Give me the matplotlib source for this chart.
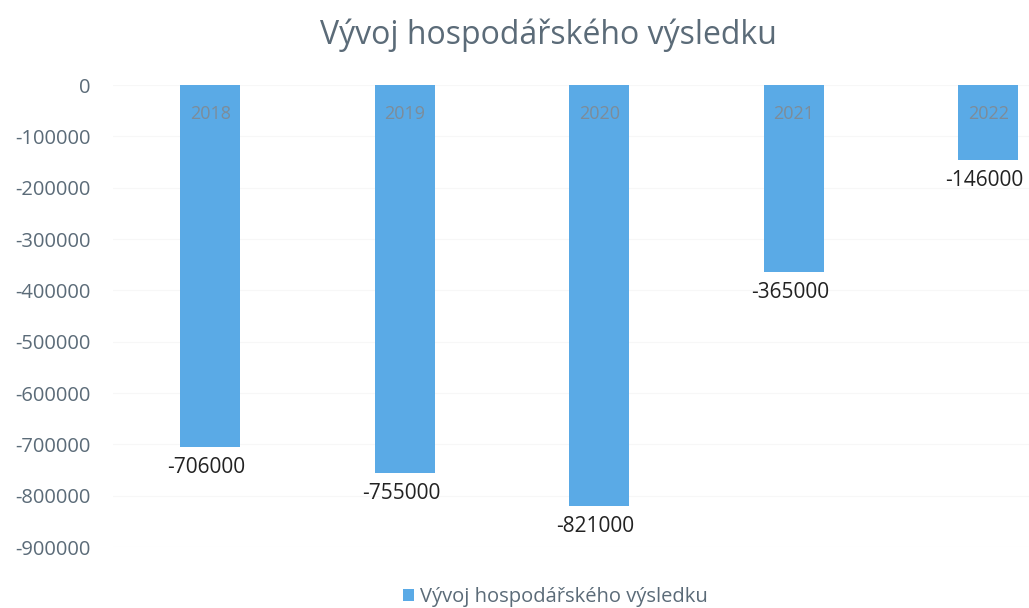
import matplotlib.pyplot as plt
import numpy as np

# data
years = ["2018", "2019", "2020", "2021", "2022"]
values = [-706000, -755000, -821000, -365000, -146000]
yticks = [0, -100000, -200000, -300000, -400000, -500000, -600000, -700000, -800000, -900000]

bar_color = "#5aaae6"
axis_color = "#5b6b78"

plt.rcParams['font.family'] = ['Open Sans', 'DejaVu Sans']

fig = plt.figure(figsize=(10.29, 6.08), dpi=100)
W, H = 1029, 608
# axes: x from 113px to right edge, y from 85px (0) to 547px (-900000)
ax = fig.add_axes([113 / W, 1 - 547 / H, (W - 113) / W, (547 - 85) / H])

x = np.arange(len(years))
bars = ax.bar(x, values, width=0.31, color=bar_color, label="Vývoj hospodářského výsledku", zorder=2)

ax.set_xlim(-0.5, 4.21)
ax.set_ylim(-900000, 0)
ax.set_yticks(yticks)
ax.set_yticklabels([str(v) for v in yticks])
ax.tick_params(axis="y", length=0, labelsize=14.5, labelcolor=axis_color, pad=16)
ax.set_xticks([])
for s in ax.spines.values():
    s.set_visible(False)
ax.yaxis.grid(True, color="#f7f7f7", linewidth=0.8, zorder=0)
ax.set_axisbelow(True)

# year labels inside top of bars
for xi, yr in zip(x, years):
    ax.text(xi, -57000, yr, ha="center", va="center", fontsize=13, color="#7d8c99", zorder=3)

# value labels below bars
for xi, v in zip(x, values):
    ax.text(xi - 0.02, v - 40000, str(v), ha="center", va="center", fontsize=15, color="#222222",
            clip_on=False)

fig.text(548 / W, 1 - 35 / H, "Vývoj hospodářského výsledku", ha="center", va="center",
         fontsize=23, color=axis_color)

fig.legend(handles=[bars], loc="center", bbox_to_anchor=(555 / W, 1 - 597 / H), frameon=False,
           fontsize=14.5, labelcolor=axis_color, handlelength=0.55, handleheight=0.55, handletextpad=0.3)

fig.savefig("out.png", dpi=100)
